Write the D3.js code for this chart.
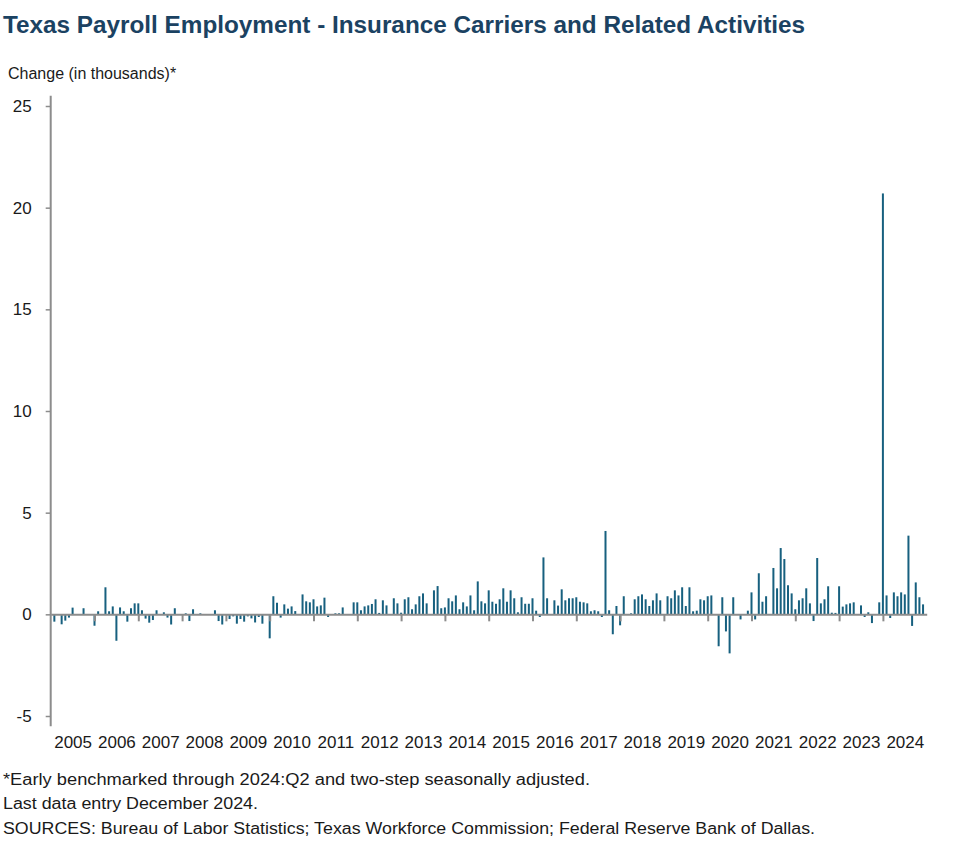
<!DOCTYPE html>
<html>
<head>
<meta charset="utf-8">
<script src="https://cdn.jsdelivr.net/npm/d3@7"></script>
<style>
  body { margin: 0; background: #ffffff; }
  svg { display: block; font-family: "Liberation Sans", Arial, sans-serif; }
</style>
</head>
<body>
<svg id="chart" width="977" height="864"></svg>
<script>
// ---- data ----
const chartTitle = "Texas Payroll Employment - Insurance Carriers and Related Activities";
const yAxisTitle = "Change (in thousands)*";
const footnotes = [
  "*Early benchmarked through 2024:Q2 and two-step seasonally adjusted.",
  "Last data entry December 2024.",
  "SOURCES: Bureau of Labor Statistics; Texas Workforce Commission; Federal Reserve Bank of Dallas."
];
const yearLabels = ["2005","2006","2007","2008","2009","2010","2011","2012","2013","2014",
                    "2015","2016","2017","2018","2019","2020","2021","2022","2023","2024"];
const yTickValues = [-5, 0, 5, 10, 15, 20, 25];
// monthly change, thousands, Jan 2005 .. Dec 2024 (one row per year)
const monthlyChange = [
  0, -0.36, 0, -0.49, -0.31, -0.16, 0.33, 0, 0, 0.30, 0, 0,
  -0.56, 0.15, 0, 1.33, 0.15, 0.39, -1.30, 0.34, 0.15, -0.36, 0.30, 0.54,
  0.54, 0.20, -0.21, -0.41, -0.28, 0.20, 0, 0.10, -0.16, -0.50, 0.30, 0,
  0, 0.05, -0.33, 0.25, 0, 0.05, 0, 0, 0, 0.20, -0.33, -0.50,
  0, -0.23, -0.10, -0.46, -0.23, -0.36, -0.10, -0.20, -0.40, -0.13, -0.46, 0,
  -1.18, 0.89, 0.57, -0.16, 0.49, 0.28, 0.39, 0.16, 0, 0.98, 0.64, 0.59,
  0.74, 0.39, 0.44, 0.82, -0.13, 0, 0.05, 0.05, 0.34, 0, 0, 0.59,
  0.59, 0.20, 0.39, 0.44, 0.51, 0.74, 0.07, 0.69, 0.44, 0, 0.79, 0.54,
  0.08, 0.74, 0.84, 0.25, 0.49, 0.89, 1.03, 0.54, 0, 1.18, 1.39, 0.30,
  0.34, 0.79, 0.64, 0.93, 0.25, 0.59, 0.39, 0.93, 0.20, 1.62, 0.64, 0.54,
  1.18, 0.62, 0.52, 0.74, 1.28, 0.62, 1.18, 0.79, 0.10, 0.84, 0.52, 0.52,
  0.79, 0.18, -0.13, 2.80, 0.79, 0, 0.69, 0.43, 1.23, 0.69, 0.79, 0.79,
  0.84, 0.62, 0.59, 0.54, 0.15, 0.20, 0.15, -0.13, 4.10, 0.20, -0.98, 0.41,
  -0.54, 0.89, 0, 0.05, 0.74, 0.89, 0.98, 0.74, 0.41, 0.69, 1.03, 0.69,
  0, 0.89, 0.79, 1.18, 0.93, 1.33, 0.41, 1.33, 0.15, 0.18, 0.74, 0.69,
  0.89, 0.93, 0, -1.57, 0.84, -0.84, -1.92, 0.84, 0, -0.25, 0, 0.18,
  1.08, -0.25, 2.02, 0.62, 0.89, 0, 2.28, 1.28, 3.26, 2.72, 1.43, 1.03,
  0.25, 0.69, 0.79, 1.28, 0.54, -0.33, 2.77, 0.54, 0.74, 1.38, 0.08, 0.07,
  1.38, 0.38, 0.49, 0.54, 0.59, 0, 0.44, -0.13, 0.10, -0.43, 0, 0.59,
  20.70, 0.93, -0.18, 1.08, 0.89, 1.08, 0.98, 3.87, -0.57, 1.57, 0.84, 0.49
];

// ---- drawing ----
const svg = d3.select("#chart");
const barColor = "#17607f";
const axisColor = "#8c8c8c";
const textColor = "#1a1a1a";

const nMonths = yearLabels.length * 12;
const x = d3.scaleLinear().domain([0, nMonths]).range([50.7, 926.7]);
const y = d3.scaleLinear().domain([-5, 25]).range([716, 106]);

// title
svg.append("text")
  .attr("x", 3).attr("y", 33)
  .attr("font-size", 23).attr("font-weight", "bold")
  .attr("fill", "#1b4262")
  .attr("textLength", 802).attr("lengthAdjust", "spacingAndGlyphs")
  .text(chartTitle);

// y axis title
svg.append("text")
  .attr("x", 8).attr("y", 79)
  .attr("font-size", 16).attr("fill", textColor)
  .text(yAxisTitle);

// bars
svg.append("g").selectAll("rect")
  .data(monthlyChange)
  .join("rect")
  .attr("x", (d, i) => x(i) - 1)
  .attr("width", 2)
  .attr("y", d => y(Math.max(0, d)))
  .attr("height", d => Math.abs(y(d) - y(0)))
  .attr("fill", barColor);

// y axis
const yAxis = svg.append("g")
  .attr("transform", `translate(${x(0)},0)`)
  .call(d3.axisLeft(y).tickValues(yTickValues).tickSize(5).tickPadding(14).tickFormat(d => String(d)));
yAxis.select(".domain").remove();
yAxis.selectAll(".tick line").attr("stroke", axisColor).attr("stroke-width", 1.5);
yAxis.selectAll(".tick text")
  .attr("font-size", 17).attr("fill", textColor)
  .attr("font-family", "Liberation Sans, Arial, sans-serif");
svg.append("line")
  .attr("x1", x(0)).attr("x2", x(0))
  .attr("y1", y(25.5)).attr("y2", y(-5.5))
  .attr("stroke", axisColor).attr("stroke-width", 2);

// x axis (zero line with year ticks)
const yearTicks = d3.range(12, nMonths, 12);
const xAxis = svg.append("g")
  .attr("transform", `translate(0,${y(0)})`)
  .call(d3.axisBottom(x).tickValues(yearTicks).tickSize(7).tickFormat("").tickSizeOuter(0));
xAxis.select(".domain").attr("stroke", axisColor).attr("stroke-width", 2);
xAxis.selectAll(".tick line").attr("stroke", axisColor).attr("stroke-width", 2);

// year labels centred on each year
const labelAxis = svg.append("g")
  .attr("transform", `translate(0,736)`)
  .call(d3.axisBottom(x)
    .tickValues(yearLabels.map((d, k) => k * 12 + 6))
    .tickFormat((d) => yearLabels[(d - 6) / 12])
    .tickSize(0).tickPadding(0));
labelAxis.select(".domain").remove();
labelAxis.selectAll(".tick text")
  .attr("font-size", 17).attr("fill", textColor)
  .attr("font-family", "Liberation Sans, Arial, sans-serif");

// footnotes
const footY = [785, 809, 834];
const footW = [587, 255, 812];
svg.append("g").selectAll("text")
  .data(footnotes)
  .join("text")
  .attr("x", 3)
  .attr("y", (d, i) => footY[i])
  .attr("font-size", 16)
  .attr("fill", textColor)
  .attr("textLength", (d, i) => footW[i])
  .attr("lengthAdjust", "spacingAndGlyphs")
  .text(d => d);
</script>
</body>
</html>
